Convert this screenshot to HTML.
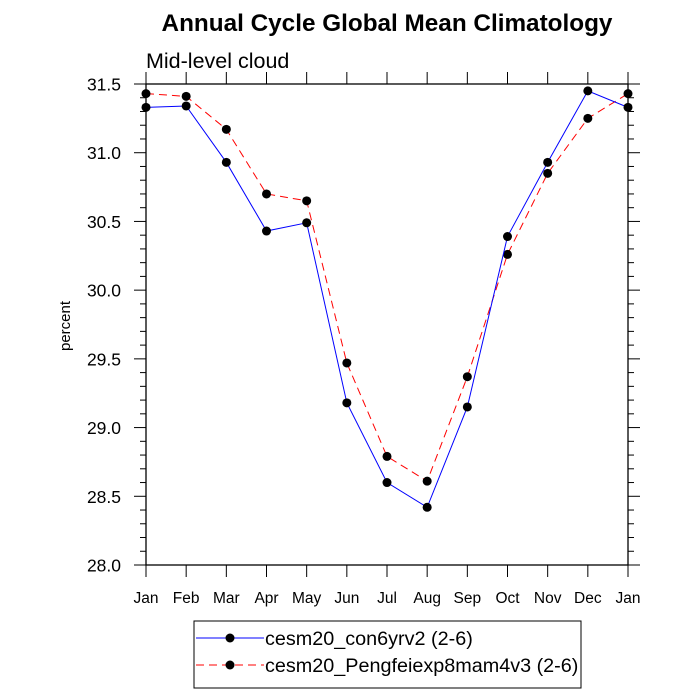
<!DOCTYPE html>
<html><head><meta charset="utf-8"><style>body{margin:0;background:#fff}svg{display:block;font-family:"Liberation Sans",sans-serif}</style></head>
<body>
<svg id="c" width="700" height="700" xmlns="http://www.w3.org/2000/svg"></svg>
<script>
const months=["Jan","Feb","Mar","Apr","May","Jun","Jul","Aug","Sep","Oct","Nov","Dec","Jan"];
const blueVals=[31.33,31.34,30.93,30.43,30.49,29.18,28.60,28.42,29.15,30.39,30.93,31.45,31.33];
const redVals=[31.43,31.41,31.17,30.70,30.65,29.47,28.79,28.61,29.37,30.26,30.85,31.25,31.43];
const yTicks=["28.0","28.5","29.0","29.5","30.0","30.5","31.0","31.5"];
const ns="http://www.w3.org/2000/svg",svg=document.getElementById('c');
const L=146,R=628,T=84,B=565,ymin=28,ymax=31.5;
const xs=i=>L+(R-L)*i/(months.length-1);
const ys=v=>B-(v-ymin)/(ymax-ymin)*(B-T);
function el(t,a,p){const e=document.createElementNS(ns,t);for(const k in a)e.setAttribute(k,a[k]);(p||svg).appendChild(e);return e;}
let t=el('text',{x:387,y:31,'text-anchor':'middle','font-size':24.3,'font-weight':'bold'});t.textContent="Annual Cycle Global Mean Climatology";

t=el('text',{x:146,y:68,'font-size':21.5});t.textContent="Mid-level cloud";

t=el('text',{x:0,y:0,'font-size':15,transform:'translate(70,326) rotate(-90)','text-anchor':'middle'});t.textContent="percent";

const box=el('rect',{x:L,y:T,width:R-L,height:B-T,fill:'none',stroke:'#000','stroke-width':1.3});

for(let v=ymin;v<=ymax+1e-9;v+=0.1){const maj=Math.abs(v*2-Math.round(v*2))<1e-6;const len=maj?12:6;const y=ys(v);
el('line',{x1:L-len,x2:L,y1:y,y2:y,stroke:'#000'});el('line',{x1:R,x2:R+len,y1:y,y2:y,stroke:'#000'});}
yTicks.forEach(s=>{const e=el('text',{x:121,y:ys(+s)+6.5,'text-anchor':'end','font-size':17.5});e.textContent=s;
});
months.forEach((m,i)=>{const x=xs(i);el('line',{x1:x,x2:x,y1:B,y2:B+12,stroke:'#000'});el('line',{x1:x,x2:x,y1:T-12,y2:T,stroke:'#000'});
const e=el('text',{x:x,y:603,'text-anchor':'middle','font-size':15.5});e.textContent=m;
});
function series(vals,color,dash,name){const p=el('polyline',{points:vals.map((v,i)=>xs(i)+','+ys(v)).join(' '),fill:'none',stroke:color,'stroke-width':1,'stroke-dasharray':dash});

vals.forEach((v,i)=>{const c=el('circle',{cx:xs(i),cy:ys(v),r:4.5,fill:'#000'});});}
series(redVals,'#f00','8,5','pengfei');
series(blueVals,'#00f','none','con6yrv2');
const lg=el('g',{});
el('rect',{x:194,y:621,width:387,height:67,fill:'#fff',stroke:'#000'},lg);
[["cesm20_con6yrv2 (2-6)",'#00f','none',638],["cesm20_Pengfeiexp8mam4v3 (2-6)",'#f00','8,5',665]].forEach(([s,c,d,y])=>{
el('line',{x1:196,x2:264,y1:y,y2:y,stroke:c,'stroke-dasharray':d},lg);el('circle',{cx:230,cy:y,r:4.5,fill:'#000'},lg);
const e=el('text',{x:265,y:y+7,'font-size':19.8},lg);e.textContent=s;});
</script>
</body></html>
